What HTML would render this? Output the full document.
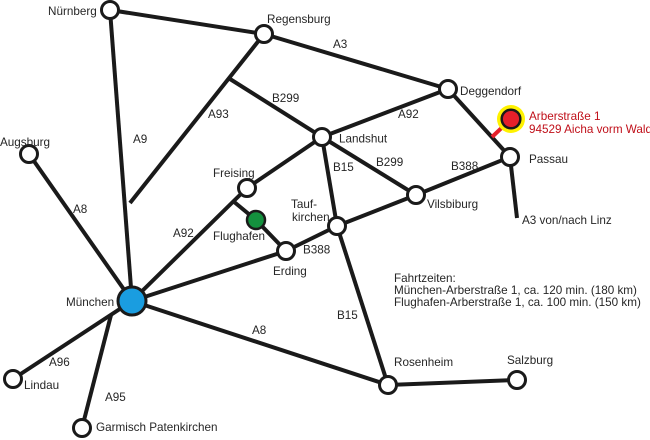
<!DOCTYPE html>
<html><head><meta charset="utf-8"><style>
html,body{margin:0;padding:0;background:#fff;}
svg{display:block;}
text{font-family:"Liberation Sans",Arial,sans-serif;font-size:11.7px;fill:#262626;}
.r{fill:#c0101a;}
</style></head><body>
<svg width="650" height="440" viewBox="0 0 650 440" xmlns="http://www.w3.org/2000/svg">
<g stroke="#1a1a1a" stroke-width="4" fill="none" stroke-linecap="butt">
  <line x1="110" y1="10" x2="264" y2="34"/>
  <line x1="264" y1="34" x2="448" y2="89"/>
  <line x1="110" y1="10" x2="132" y2="301"/>
  <line x1="264" y1="34" x2="130" y2="203"/>
  <line x1="230" y1="79" x2="322" y2="137"/>
  <line x1="322" y1="137" x2="448" y2="89"/>
  <line x1="448" y1="89" x2="510" y2="157"/>
  <line x1="322" y1="137" x2="416" y2="195"/>
  <line x1="416" y1="195" x2="510" y2="157"/>
  <line x1="510" y1="157" x2="517" y2="218"/>
  <line x1="322" y1="137" x2="337" y2="226"/>
  <line x1="337" y1="226" x2="416" y2="195"/>
  <line x1="337" y1="226" x2="286" y2="251"/>
  <line x1="337" y1="226" x2="388" y2="385"/>
  <line x1="388" y1="385" x2="517" y2="380"/>
  <line x1="132" y1="301" x2="247" y2="188"/>
  <line x1="247" y1="188" x2="322" y2="137"/>
  <line x1="233" y1="201" x2="256" y2="220"/>
  <line x1="256" y1="220" x2="286" y2="251"/>
  <line x1="132" y1="301" x2="286" y2="251"/>
  <line x1="132" y1="301" x2="388" y2="385"/>
  <line x1="29" y1="154" x2="132" y2="301"/>
  <line x1="132" y1="301" x2="13" y2="379"/>
  <line x1="111" y1="315" x2="82" y2="428"/>
</g>
<line x1="511" y1="119" x2="492" y2="137" stroke="#e5202a" stroke-width="4"/>
<g stroke="#1a1a1a" stroke-width="3" fill="#fff">
  <circle cx="110" cy="10" r="8.5"/>
  <circle cx="264" cy="34" r="8.5"/>
  <circle cx="448" cy="89" r="8.5"/>
  <circle cx="322" cy="137" r="8.5"/>
  <circle cx="510" cy="157" r="8.5"/>
  <circle cx="29" cy="154" r="8.5"/>
  <circle cx="247" cy="188" r="8.5"/>
  <circle cx="416" cy="195" r="8.5"/>
  <circle cx="337" cy="226" r="8.5"/>
  <circle cx="286" cy="251" r="8.5"/>
  <circle cx="13" cy="379" r="8.5"/>
  <circle cx="388" cy="385" r="8.5"/>
  <circle cx="517" cy="380" r="8.5"/>
  <circle cx="82" cy="428" r="8.5"/>
</g>
<circle cx="132" cy="301" r="14" fill="#1a9de0" stroke="#1a1a1a" stroke-width="3"/>
<circle cx="256" cy="220" r="9" fill="#14913e" stroke="#1a1a1a" stroke-width="2.5"/>
<circle cx="511" cy="119" r="14" fill="#fff200"/>
<circle cx="511" cy="119" r="9.3" fill="#e5202a" stroke="#1a1a1a" stroke-width="2.5"/>

<text x="48" y="15">Nürnberg</text>
<text x="267" y="23">Regensburg</text>
<text x="333" y="48">A3</text>
<text x="460" y="95">Deggendorf</text>
<text class="r" x="529" y="120">Arberstraße 1</text>
<text class="r" x="529" y="133">94529 Aicha vorm Wald</text>
<text x="398" y="118">A92</text>
<text x="339" y="142.5">Landshut</text>
<text x="529" y="163">Passau</text>
<text x="333" y="171">B15</text>
<text x="376" y="166">B299</text>
<text x="451" y="170">B388</text>
<text x="427" y="208">Vilsbiburg</text>
<text x="522" y="224">A3 von/nach Linz</text>
<text x="208" y="118">A93</text>
<text x="272" y="102">B299</text>
<text x="133" y="143">A9</text>
<text x="0" y="146">Augsburg</text>
<text x="73" y="213">A8</text>
<text x="213" y="177">Freising</text>
<text x="291" y="208">Tauf-</text>
<text x="292" y="221">kirchen</text>
<text x="213" y="240">Flughafen</text>
<text x="173" y="237">A92</text>
<text x="303" y="253.5">B388</text>
<text x="273" y="275">Erding</text>
<text x="66" y="306">München</text>
<text x="252" y="334">A8</text>
<text x="49" y="366">A96</text>
<text x="24" y="389">Lindau</text>
<text x="105" y="401">A95</text>
<text x="96" y="431">Garmisch Patenkirchen</text>
<text x="337" y="319">B15</text>
<text x="394" y="282">Fahrtzeiten:</text>
<text x="394" y="294">München-Arberstraße 1, ca. 120 min. (180 km)</text>
<text x="394" y="306">Flughafen-Arberstraße 1, ca. 100 min. (150 km)</text>
<text x="394" y="366">Rosenheim</text>
<text x="507" y="364">Salzburg</text>
</svg>
</body></html>
